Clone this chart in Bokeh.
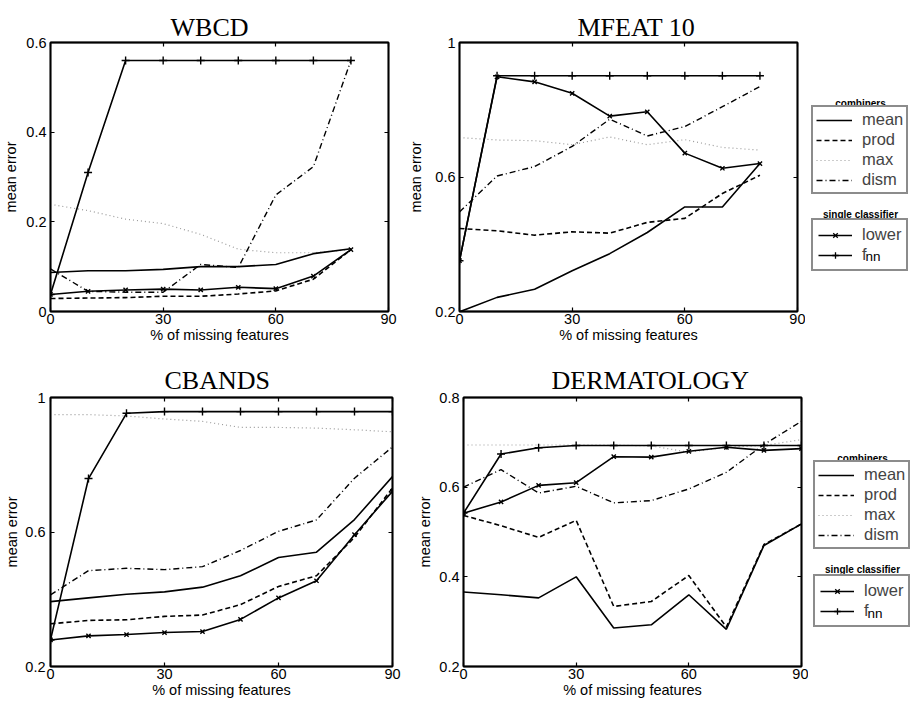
import numpy as np
from bokeh.plotting import figure
from bokeh.models import (Range1d, FixedTicker, LinearAxis, Label, Legend, LegendItem,
                          NumeralTickFormatter, CustomJSTickFormatter)
from bokeh.layouts import row, column
from bokeh.embed import file_html
from bokeh.resources import INLINE

# ---------------- data ----------------
pct_0_80 = [0, 10, 20, 30, 40, 50, 60, 70, 80]
pct_0_90 = [0, 10, 20, 30, 40, 50, 60, 70, 80, 90]

wbcd_mean = [0.087, 0.091, 0.091, 0.094, 0.100, 0.100, 0.105, 0.129, 0.140]
wbcd_prod = [0.029, 0.030, 0.031, 0.034, 0.034, 0.039, 0.046, 0.072, 0.138]
wbcd_max = [0.239, 0.225, 0.206, 0.196, 0.172, 0.139, 0.131, 0.131, 0.138]
wbcd_dism = [0.095, 0.045, 0.043, 0.043, 0.105, 0.098, 0.260, 0.323, 0.560]
wbcd_lower = [0.038, 0.045, 0.048, 0.050, 0.048, 0.054, 0.051, 0.079, 0.138]
wbcd_fnn = [0.038, 0.310, 0.560, 0.560, 0.560, 0.560, 0.560, 0.560, 0.560]

mfeat_mean = [0.199, 0.242, 0.266, 0.321, 0.372, 0.435, 0.511, 0.511, 0.640]
mfeat_prod = [0.447, 0.440, 0.427, 0.437, 0.433, 0.465, 0.477, 0.551, 0.605]
mfeat_max = [0.717, 0.710, 0.708, 0.696, 0.719, 0.696, 0.711, 0.688, 0.680]
mfeat_dism = [0.496, 0.603, 0.631, 0.691, 0.772, 0.722, 0.750, 0.809, 0.869]
mfeat_lower = [0.351, 0.898, 0.883, 0.849, 0.781, 0.794, 0.671, 0.626, 0.640]
mfeat_fnn = [0.351, 0.901, 0.901, 0.901, 0.901, 0.901, 0.901, 0.901, 0.901]

cbands_mean = [0.393, 0.404, 0.415, 0.422, 0.436, 0.470, 0.524, 0.540, 0.637, 0.765]
cbands_prod = [0.327, 0.337, 0.339, 0.349, 0.353, 0.384, 0.438, 0.470, 0.584, 0.731]
cbands_max = [0.949, 0.949, 0.945, 0.936, 0.929, 0.911, 0.911, 0.909, 0.904, 0.898]
cbands_dism = [0.413, 0.485, 0.492, 0.488, 0.497, 0.545, 0.602, 0.636, 0.760, 0.853]
cbands_lower = [0.279, 0.291, 0.295, 0.301, 0.304, 0.340, 0.404, 0.455, 0.592, 0.721]
cbands_fnn = [0.279, 0.759, 0.953, 0.958, 0.958, 0.958, 0.958, 0.958, 0.958, 0.958]

derm_mean = [0.366, 0.360, 0.353, 0.400, 0.286, 0.293, 0.360, 0.283, 0.470, 0.518]
derm_prod = [0.537, 0.514, 0.488, 0.526, 0.334, 0.345, 0.403, 0.288, 0.472, 0.518]
derm_max = [0.694, 0.694, 0.694, 0.694, 0.694, 0.692, 0.678, 0.689, 0.693, 0.706]
derm_dism = [0.600, 0.639, 0.587, 0.602, 0.565, 0.570, 0.596, 0.633, 0.695, 0.747]
derm_lower = [0.542, 0.567, 0.604, 0.610, 0.668, 0.667, 0.680, 0.689, 0.682, 0.686]
derm_fnn = [0.542, 0.674, 0.688, 0.693, 0.693, 0.693, 0.693, 0.693, 0.693, 0.693]

x_ticks = [0, 30, 60, 90]
wbcd_yticks = [0, 0.2, 0.4, 0.6]
mfeat_yticks = [0.2, 0.6, 1.0]
cbands_yticks = [0.2, 0.6, 1.0]
derm_yticks = [0.2, 0.4, 0.6, 0.8]

combiner_names = ["mean", "prod", "max", "dism"]
single_names = ["lower", "f"]

# ---------------- styles ----------------
SANS = "Liberation Sans"
SERIF = "Liberation Serif"
FS = "14.5px"

STYLES = {
    "mean": dict(line_color="black", line_width=1.6),
    "prod": dict(line_color="black", line_width=1.6, line_dash="5 3"),
    "max": dict(line_color="#9a9a9a", line_width=1.2, line_dash="1 3"),
    "dism": dict(line_color="black", line_width=1.4, line_dash="6 3 1 3"),
}


def style_axis(ax, ticker, labels=True):
    ax.ticker = ticker
    ax.major_tick_in = 4
    ax.major_tick_out = 0
    ax.minor_tick_in = 0
    ax.minor_tick_out = 0
    ax.axis_line_color = "black"
    ax.axis_line_width = 1.5
    ax.major_tick_line_color = "black"
    ax.major_tick_line_width = 1.2
    if labels:
        ax.major_label_text_font = SANS
        ax.major_label_text_font_size = FS
        ax.major_label_text_color = "black"
        ax.axis_label_text_font = SANS
        ax.axis_label_text_font_size = FS
        ax.axis_label_text_font_style = "normal"
        ax.axis_label_text_color = "black"
        ax.formatter = NumeralTickFormatter(format="0.[0]")
    else:
        ax.formatter = CustomJSTickFormatter(code="return ''")
        ax.major_label_text_font_size = "1px"
        ax.major_label_standoff = 0


def panel(title, xs, d, yr, yticks, width, height, bl, br, bt, bb,
          title_dx, title_standoff, ylab_standoff, ytick_standoff):
    p = figure(width=width, height=height, x_range=Range1d(0, 90), y_range=Range1d(*yr),
               output_backend="svg", toolbar_location=None,
               min_border_left=bl, min_border_right=br, min_border_top=bt, min_border_bottom=bb,
               x_axis_label="% of missing features", y_axis_label="mean error")
    p.grid.visible = False
    p.outline_line_color = "black"
    p.outline_line_width = 1.8
    p.outline_line_alpha = 1.0
    p.background_fill_color = "white"
    p.border_fill_color = "white"

    p.title.text = title
    p.title.align = "left"
    p.title.offset = title_dx
    p.title.standoff = title_standoff
    p.title.text_font = SERIF
    p.title.text_font_size = "26px"
    p.title.text_font_style = "normal"
    p.title.text_color = "black"

    style_axis(p.xaxis[0], FixedTicker(ticks=x_ticks, minor_ticks=[]))
    style_axis(p.yaxis[0], FixedTicker(ticks=yticks, minor_ticks=[]))
    p.xaxis[0].major_label_standoff = 2
    p.xaxis[0].axis_label_standoff = 0
    p.yaxis[0].major_label_standoff = ytick_standoff
    p.yaxis[0].axis_label_standoff = ylab_standoff

    top = LinearAxis()
    style_axis(top, FixedTicker(ticks=x_ticks, minor_ticks=[]), labels=False)
    top.major_label_text_font_size = "6px"   # empty labels; only lifts the title
    p.add_layout(top, "above")
    right = LinearAxis()
    style_axis(right, FixedTicker(ticks=yticks, minor_ticks=[]), labels=False)
    p.add_layout(right, "right")

    for name in ["max", "prod", "dism", "mean"]:
        p.line(xs, d[name], **STYLES[name])
    p.line(xs, d["lower"], line_color="black", line_width=1.6)
    p.scatter(xs, d["lower"], marker="x", size=6, line_color="black", line_width=1.4)
    p.line(xs, d["fnn"], line_color="black", line_width=1.6)
    p.scatter(xs, d["fnn"], marker="cross", size=8, line_color="black", line_width=1.4)
    return p


def legend_fig(width, height, bt, bb, box_x, comb_bottom, single_bottom, t1, t2, nn):
    lf = figure(width=width, height=height, output_backend="svg", toolbar_location=None,
                x_axis_type=None, y_axis_type=None,
                min_border_left=0, min_border_right=0, min_border_top=bt, min_border_bottom=bb,
                x_range=Range1d(0, 1), y_range=Range1d(0, 1))
    lf.outline_line_color = None
    lf.grid.visible = False
    lf.background_fill_color = "white"
    lf.border_fill_color = "white"

    common = dict(border_line_color="#8c8c8c", border_line_width=2, border_line_alpha=1.0,
                  background_fill_color="white", background_fill_alpha=0.0,
                  label_text_font=SANS, label_text_font_size="16.5px",
                  glyph_height=16, label_height=16, label_standoff=10,
                  spacing=1, margin=0)

    nan = np.array([np.nan])
    items1 = []
    for name in combiner_names:
        r = lf.line(x=nan, y=nan, **STYLES[name])
        items1.append(LegendItem(label=name, renderers=[r]))
    lf.add_layout(Legend(items=items1, location=(box_x, comb_bottom),
                         glyph_width=36, padding=3, **common))

    rl = lf.line(x=nan, y=nan, line_color="black", line_width=1.5)
    sl = lf.scatter(x=nan, y=nan, marker="x", size=5, line_color="black", line_width=1.3)
    rf = lf.line(x=nan, y=nan, line_color="black", line_width=1.5)
    sf = lf.scatter(x=nan, y=nan, marker="cross", size=8, line_color="black", line_width=1.3)
    items2 = [LegendItem(label=single_names[0], renderers=[rl, sl]),
              LegendItem(label=single_names[1], renderers=[rf, sf])]
    lf.add_layout(Legend(items=items2, location=(box_x, single_bottom),
                         glyph_width=34, padding=5, **common))

    for txt, (x, y) in (("combiners", t1), ("single classifier", t2)):
        lf.add_layout(Label(x=x, y=y, x_units="screen", y_units="screen", text=txt,
                            text_font=SANS, text_font_size="10px", text_font_style="bold",
                            text_align="center", text_baseline="alphabetic", text_color="black"))
    lf.add_layout(Label(x=nn[0], y=nn[1], x_units="screen", y_units="screen", text="nn",
                        text_font=SANS, text_font_size="13.5px", text_align="left",
                        text_baseline="alphabetic", text_color="black"))
    return lf


wbcd = dict(mean=wbcd_mean, prod=wbcd_prod, max=wbcd_max, dism=wbcd_dism, lower=wbcd_lower, fnn=wbcd_fnn)
mfeat = dict(mean=mfeat_mean, prod=mfeat_prod, max=mfeat_max, dism=mfeat_dism, lower=mfeat_lower, fnn=mfeat_fnn)
cbands = dict(mean=cbands_mean, prod=cbands_prod, max=cbands_max, dism=cbands_dism, lower=cbands_lower, fnn=cbands_fnn)
derm = dict(mean=derm_mean, prod=derm_prod, max=derm_max, dism=derm_dism, lower=derm_lower, fnn=derm_fnn)

H1, BT1, BB1 = 345, 42, 34
H2, BT2, BB2 = 359, 52, 38

p1 = panel("WBCD", pct_0_80, wbcd, (0, 0.6), wbcd_yticks, 405, H1, 46, 17, BT1, BB1, 120, 2, 4, 4)
p2 = panel("MFEAT 10", pct_0_80, mfeat, (0.2, 1.0), mfeat_yticks, 400, H1, 49, 8, BT1, BB1, 118, 2, 8, 4)
l1 = legend_fig(113, H1, BT1, BB1, 6, 117, 40, (55, 208), (55, 97), (60, 55))

p3 = panel("CBANDS", pct_0_90, cbands, (0.2, 1.0), cbands_yticks, 414, H2, 50, 22, BT2, BB2, 114, 6, 2, 5)
p4 = panel("DERMATOLOGY", pct_0_90, derm, (0.2, 0.8), derm_yticks, 394, H2, 45, 7, BT2, BB2, 88, 6, 3, 4)
l2 = legend_fig(110, H2, BT2, BB2, 5, 117, 39, (54, 208), (54, 97), (59, 53))

layout = column(row(p1, p2, l1), row(p3, p4, l2))

open("out.html", "w").write(file_html(layout, INLINE))
